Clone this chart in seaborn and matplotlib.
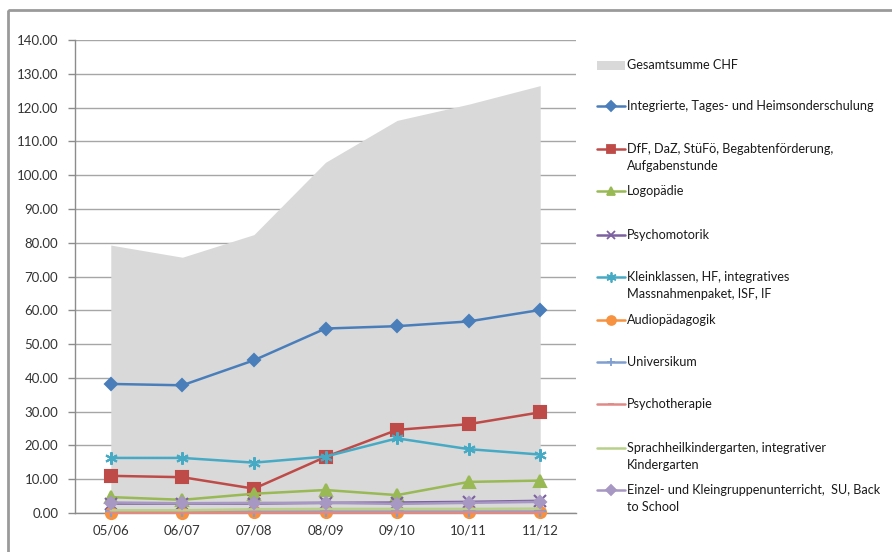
import matplotlib
matplotlib.use("Agg")
import matplotlib.pyplot as plt
import matplotlib.ticker as mticker
from matplotlib.patches import Rectangle
import pandas as pd
import seaborn as sns

# school years on the x axis
years = ["05/06", "06/07", "07/08", "08/09", "09/10", "10/11", "11/12"]

# total (grey area)
total_label = "Gesamtsumme CHF"
total = [79.3, 75.7, 82.4, 103.8, 116.2, 121.0, 126.5]

# individual series
labels = [
    "Integrierte, Tages- und Heimsonderschulung",
    "DfF, DaZ, StüFö, Begabtenförderung,\nAufgabenstunde",
    "Logopädie",
    "Psychomotorik",
    "Kleinklassen, HF, integratives\nMassnahmenpaket, ISF, IF",
    "Audiopädagogik",
    "Universikum",
    "Psychotherapie",
    "Sprachheilkindergarten, integrativer\nKindergarten",
    "Einzel- und Kleingruppenunterricht,  SU, Back\nto School",
]
integrierte = [38.2, 37.8, 45.2, 54.6, 55.3, 56.7, 60.1]
dff = [11.0, 10.6, 7.2, 16.6, 24.6, 26.3, 29.8]
logopaedie = [4.7, 3.9, 5.7, 6.8, 5.3, 9.2, 9.6]
psychomotorik = [2.8, 2.8, 2.8, 3.0, 3.1, 3.3, 3.6]
kleinklassen = [16.3, 16.3, 14.9, 16.7, 22.1, 18.9, 17.3]
audio = [0.1, 0.1, 0.2, 0.2, 0.2, 0.2, 0.2]
universikum = [0.6, 0.6, 0.6, 0.6, 0.6, 0.6, 0.6]
psychotherapie = [0.3, 0.3, 0.3, 0.3, 0.3, 0.3, 0.3]
sprachheil = [0.8, 0.8, 1.1, 1.2, 1.2, 1.2, 1.3]
einzel = [3.1, 2.9, 3.0, 3.0, 2.7, 3.0, 3.3]
series = [integrierte, dff, logopaedie, psychomotorik, kleinklassen,
          audio, universikum, psychotherapie, sprachheil, einzel]

colors = ["#4A7EBB", "#BE4B48", "#98B954", "#7D60A0", "#46AAC5",
          "#F69240", "#7F9FD0", "#E08A87", "#B8D08A", "#A797C3"]
markers = ["D", "s", "^", "x", (6, 2, 0), "o", "+", "_", "", "D"]
msizes = [6, 8, 8, 8, 9, 8, 8, 6, 0, 6]

sns.set_theme(style="white")
plt.rcParams["font.family"] = ["Lato", "DejaVu Sans"]

fig = plt.figure(figsize=(8.92, 5.52), dpi=100)
ax = fig.add_axes([75 / 892, 39 / 552, 501 / 892, 473 / 552])

x = list(range(len(years)))
ax.fill_between(x, 0, total, color="#D9D9D9", lw=0, zorder=1)

for vals, lab, c, m, ms in zip(series, labels, colors, markers, msizes):
    df = pd.DataFrame({"x": x, "y": vals})
    sns.lineplot(data=df, x="x", y="y", ax=ax, color=c, lw=1.8,
                 marker=m if m else None, markersize=ms,
                 markeredgecolor=c, markeredgewidth=1.5, zorder=3, clip_on=False)

ax.set_xlim(-0.5, 6.5)
ax.set_ylim(0, 140)
ax.set_xlabel("")
ax.set_ylabel("")
ax.yaxis.set_major_locator(mticker.MultipleLocator(10))
ax.yaxis.set_major_formatter(mticker.FormatStrFormatter("%.2f"))
ax.set_xticks(x)
ax.set_xticklabels(years)
ax.set_xticks([i - 0.5 for i in range(len(years) + 1)], minor=True)
ax.tick_params(axis="x", which="major", length=0, pad=8, labelsize=9.5, colors="#333333")
ax.tick_params(axis="x", which="minor", length=5, width=1, color="#8C8C8C", direction="out")
ax.tick_params(axis="y", which="major", length=5, width=1, color="#8C8C8C",
               direction="out", labelsize=9.5, labelcolor="#333333", left=True, pad=7)
ax.grid(axis="y", color="#A6A6A6", lw=1, zorder=0)
ax.set_axisbelow(True)
for s in ["top", "right"]:
    ax.spines[s].set_visible(False)
for s in ["left", "bottom"]:
    ax.spines[s].set_color("#8C8C8C")
    ax.spines[s].set_linewidth(1)

# overlay for frame and Excel-style legend (pixel coordinates)
lax = fig.add_axes([0, 0, 1, 1], zorder=5)
lax.set_xlim(0, 892)
lax.set_ylim(552, 0)
lax.axis("off")
lax.patch.set_alpha(0)
lax.add_patch(Rectangle((8, 10), 900, 560, fill=False, edgecolor="#9A9A9A", lw=2))

hx0, hx1, tx = 597, 625, 627
fs = 9.1
lax.add_patch(Rectangle((hx0, 61), hx1 - hx0, 9, color="#D9D9D9", lw=0))
lax.text(tx, 65, total_label, va="center", ha="left", fontsize=fs, color="#1A1A1A")
ys = [106, 149, 191, 235, 277, 320, 362, 404, 448, 490]
for y, lab, c, m, ms in zip(ys, labels, colors, markers, msizes):
    lax.plot([hx0, (hx0 + hx1) / 2, hx1], [y, y, y], color=c, lw=1.8,
             marker=m if m else None, markevery=[1], markersize=ms * 0.8,
             markeredgecolor=c, markeredgewidth=1.3)
    for k, line in enumerate(lab.split("\n")):
        lax.text(tx, y + 17 * k, line, va="center", ha="left", fontsize=fs, color="#1A1A1A")

fig.savefig("out.png", dpi=100)
